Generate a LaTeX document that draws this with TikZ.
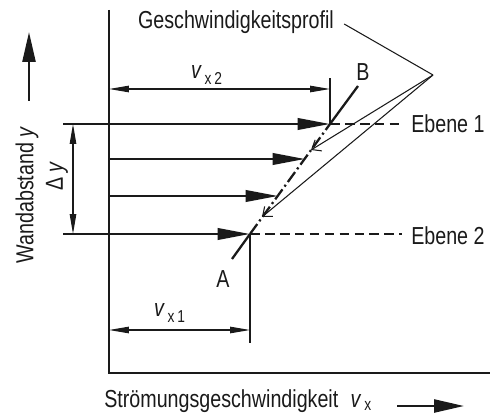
\documentclass[tikz,border=0pt]{standalone}
\usepackage{fontspec}
\setmainfont{Liberation Sans}[FakeStretch=0.8, Scale=1.4]
\usetikzlibrary{arrows.meta}
\definecolor{cink}{HTML}{1A1A1A}
\newcommand{\velo}[1]{\textit{v}\textsubscript{\,#1}}
\tikzset{
  every picture/.style={line width=0.6pt, x=0.02cm, y=-0.02cm},
  wall/.style={draw=cink, line width=1.2pt},
  flow/.style={-{Triangle[length=6.5mm, width=2.3mm]}, draw=cink, line width=1.4pt},
  axisarrow/.style={-{Triangle[length=6mm, width=2.6mm]}, draw=cink, line width=1.4pt},
  dimline/.style={{Triangle[length=4mm, width=1.3mm]}-{Triangle[length=4mm, width=1.3mm]}, draw=cink, line width=0.6pt},
  helpline/.style={draw=cink, line width=0.6pt},
  plane/.style={draw=cink, line width=0.6pt, dash pattern=on 5.5pt off 3pt},
  profile/.style={draw=cink, line width=1.3pt},
  pointer/.style={draw=cink, line width=0.6pt, -{Straight Barb[length=1.6mm, width=2.6mm]}},
  lbl/.style={text=cink, inner sep=1pt},
}
\begin{document}
\begin{tikzpicture}
  \useasboundingbox (0,0) rectangle (496,418);
  % wall and floor
  \coordinate (top) at (109,10);
  \coordinate (corner) at (109,373);
  \coordinate (floor) at (490,373);
  \draw[wall] (top) -- (corner) -- (floor);
  % velocity arrows, wall to profile
  \foreach \n/\y/\x in {1/124/330, 2/159/305, 3/196/278, 4/234/250} {
    \coordinate (w\n) at (109,\y);
    \coordinate (p\n) at (\x,\y);
  }
  \foreach \n in {1,...,4} \draw[flow] (w\n) -- (p\n);
  % profile line A--B
  \coordinate (A) at (232,259);
  \coordinate (B) at (358,86);
  \draw[profile] (A) -- (p4);
  \draw[profile, dash pattern=on 7pt off 2pt on 1.2pt off 2pt] (p4) -- (p1);
  \draw[profile] (p1) -- (B);
  \node[lbl] (la) at (223,279) {A};
  \node[lbl] (lb) at (363,72) {B};
  % planes
  \coordinate (e1) at (402,124);
  \coordinate (e2) at (402,234);
  \draw[plane] (p1) -- (e1);
  \draw[plane] (p4) -- (e2);
  \node[lbl, anchor=west] (ebene1) at (409,124) {Ebene 1};
  \node[lbl, anchor=west] (ebene2) at (409,236) {Ebene 2};
  % dimension v_x2
  \coordinate (d2a) at (109,89);
  \coordinate (d2b) at (330,89);
  \coordinate (x2top) at (330,78);
  \draw[helpline] (p1) -- (x2top);
  \draw[dimline] (d2a) -- (d2b);
  \node[lbl] (vx2) at (207,75) {\velo{x\,2}};
  % dimension v_x1
  \coordinate (d1a) at (109,330);
  \coordinate (d1b) at (250,330);
  \coordinate (x1bot) at (250,343);
  \draw[helpline] (p4) -- (x1bot);
  \draw[dimline] (d1a) -- (d1b);
  \node[lbl] (vx1) at (170,313) {\velo{x\,1}};
  % dimension Delta y
  \coordinate (h1) at (63,124);
  \coordinate (h2) at (63,234);
  \coordinate (dy1) at (73,124);
  \coordinate (dy2) at (73,234);
  \draw[helpline] (h1) -- (w1);
  \draw[helpline] (h2) -- (w4);
  \draw[dimline] (dy1) -- (dy2);
  \node[lbl, rotate=90] (dy) at (57,176) {\symbol{"0394} \textit{y}};
  % axis labels
  \node[lbl, rotate=90] (ylab) at (27,195) {Wandabstand \textit{y}};
  \coordinate (ya) at (29,101);
  \coordinate (yb) at (29,32);
  \draw[axisarrow] (ya) -- (yb);
  \node[lbl, anchor=west] (xlab) at (102,401) {Strömungsgeschwindigkeit\enspace\velo{x}};
  \coordinate (xa) at (397,406);
  \coordinate (xb) at (464,406);
  \draw[axisarrow] (xa) -- (xb);
  % Geschwindigkeitsprofil pointer
  \node[lbl] (gp) at (236,22) {Geschwindigkeitsprofil};
  \coordinate (apex) at (433,75);
  \coordinate (t1) at (311,150);
  \coordinate (t2) at (262,217);
  \draw[helpline] (gp.east) ++(8,2) -- (apex);
  \draw[pointer] (apex) -- (t1);
  \draw[pointer] (apex) -- (t2);
\end{tikzpicture}
\end{document}
